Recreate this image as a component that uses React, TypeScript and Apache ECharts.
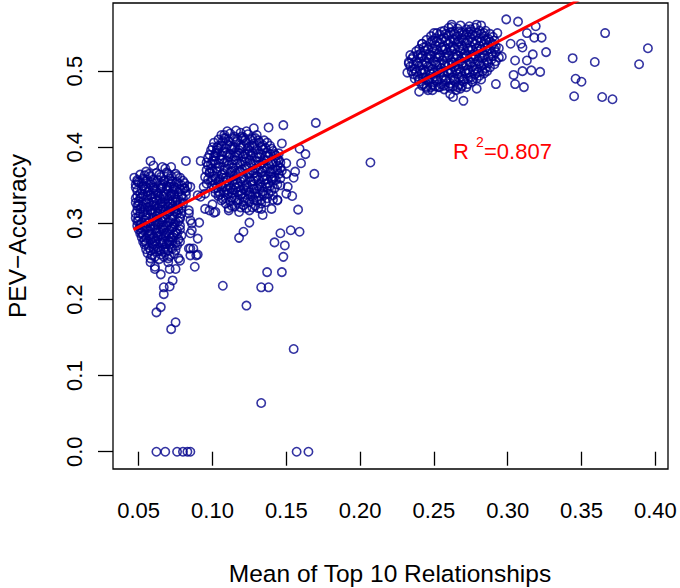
import React, { useEffect, useRef } from "react";
import * as echarts from "echarts";

// Values in thousandths: [x*1000, y*1000]
const clusterA: number[][] = [
  [51,364],[55,368],[58,362],[62,366],[65,361],[69,367],[72,362],[75,365],[78,360],[49,357],[53,359],[60,358],[67,357],[71,359],
  [54,363],[57,365],[64,364],[70,365],[76,362],
  [48,351],[50,354],[53,349],[55,355],[58,351],[60,347],[62,353],[65,350],[67,355],[69,349],[72,352],[74,348],[76,354],[79,350],[81,353],
  [49,355],[52,352],[56,357],[59,354],[63,357],[66,352],[70,356],[73,355],[77,352],[80,356],[83,349],
  [49,343],[51,339],[54,345],[56,341],[58,337],[61,344],[63,340],[65,346],[67,338],[70,343],[72,339],[74,345],[77,341],[79,337],[82,342],
  [48,347],[52,344],[55,348],[57,343],[60,346],[62,342],[66,347],[69,345],[71,348],[73,342],[75,347],[78,345],[81,346],
  [48,333],[50,329],[52,335],[55,331],[57,327],[59,334],[62,330],[64,335],[66,328],[68,332],[71,336],[73,330],[75,334],[78,328],[80,333],
  [49,336],[51,333],[53,338],[56,336],[60,339],[61,333],[63,337],[65,332],[67,335],[70,331],[72,336],[74,338],[76,331],[79,335],[82,337],
  [49,323],[51,319],[53,325],[56,321],[58,317],[60,324],[63,320],[65,326],[67,318],[70,322],[72,326],[74,319],[76,324],[79,320],
  [48,327],[50,325],[52,322],[55,327],[57,322],[59,328],[61,322],[64,323],[66,322],[68,326],[71,327],[73,322],[75,328],[77,322],[80,326],
  [48,313],[50,309],[53,315],[55,311],[57,307],[59,314],[62,310],[64,316],[66,308],[69,312],[71,316],[73,309],[76,313],[78,308],
  [49,317],[51,313],[54,319],[56,314],[59,318],[61,316],[63,313],[65,318],[68,316],[70,314],[72,319],[75,316],[77,318],[79,313],
  [49,303],[51,298],[54,304],[56,300],[58,296],[61,302],[63,298],[65,305],[67,297],[70,301],[72,305],[74,299],[77,303],
  [48,307],[50,304],[52,301],[55,307],[57,302],[60,307],[62,305],[64,301],[66,302],[68,306],[71,302],[73,306],[75,302],[78,306],
  [50,292],[52,288],[54,294],[57,290],[59,286],[61,293],[64,289],[66,294],[68,287],[71,291],[73,295],[75,288],[78,292],
  [49,297],[51,294],[53,291],[55,296],[58,293],[60,298],[62,291],[65,292],[67,291],[69,297],[72,293],[74,296],[76,291],[78,297],
  [52,282],[54,278],[57,284],[59,280],[61,276],[63,283],[66,279],[68,284],[70,277],[72,281],[74,285],[77,279],
  [51,287],[53,285],[55,281],[58,286],[60,282],[62,288],[65,285],[67,282],[69,288],[71,285],[73,282],[76,286],[79,284],
  [54,272],[57,268],[59,274],[61,270],[64,266],[66,273],[68,269],[71,272],[73,267],[76,271],
  [53,276],[55,274],[58,278],[60,272],[62,277],[65,275],[67,276],[69,273],[71,276],[73,277],[75,274],[78,276],
  [56,261],[59,258],[62,263],[65,259],[68,262],[71,257],[74,260],
  [55,266],[58,264],[60,266],[63,268],[65,264],[67,266],[70,264],[72,268],[75,265],
  [58,254],[61,256],[64,253],[67,256],[70,254],
];

const clusterB: number[][] = [
  [110,421],[116,422],[123,421],
  [106,416],[109,412],[112,418],[115,414],[119,419],[121,413],[124,417],[127,412],[130,416],
  [104,410],[108,412],[111,408],[114,411],[117,410],[120,411],[123,406],[126,410],[129,412],[132,406],[135,409],
  [101,406],[104,402],[107,408],[110,404],[113,400],[116,407],[119,403],[122,409],[125,401],[128,405],[131,409],[134,403],[137,406],
  [100,400],[103,396],[106,402],[109,399],[112,402],[115,399],[118,396],[121,401],[124,398],[127,402],[130,397],[133,401],[136,399],[139,402],[141,395],
  [99,396],[102,392],[104,398],[107,394],[110,390],[113,397],[116,393],[119,399],[122,391],[125,395],[128,399],[131,392],[134,397],[137,393],[140,398],[142,391],
  [98,390],[101,388],[103,393],[106,389],[109,393],[112,391],[115,388],[118,392],[121,388],[124,391],[127,393],[130,387],[133,391],[136,389],[139,391],[143,389],[145,392],
  [97,386],[100,382],[102,388],[105,384],[108,380],[111,387],[114,383],[117,389],[120,381],[123,385],[126,389],[129,382],[132,387],[135,383],[138,388],[141,381],[144,385],
  [96,380],[99,378],[101,383],[104,379],[107,384],[110,382],[113,378],[116,383],[119,377],[122,381],[125,383],[128,377],[131,381],[134,379],[137,383],[140,378],[143,381],[146,380],
  [97,376],[99,372],[102,378],[105,374],[108,370],[111,377],[114,373],[117,379],[120,371],[123,375],[126,379],[129,372],[132,377],[135,373],[138,378],[141,371],[144,376],[146,373],
  [96,370],[98,367],[100,369],[103,372],[107,366],[110,372],[113,369],[116,366],[119,368],[122,372],[125,367],[128,366],[131,371],[134,369],[137,372],[140,366],[143,370],[147,369],
  [98,366],[101,362],[103,368],[106,364],[109,360],[112,367],[115,363],[118,369],[121,361],[124,365],[127,369],[130,362],[133,367],[136,363],[139,368],[142,361],[145,365],
  [97,358],[100,357],[102,359],[104,355],[107,360],[110,356],[113,361],[116,358],[119,355],[122,357],[125,360],[128,356],[131,357],[134,361],[137,358],[140,361],[143,357],[146,359],
  [99,356],[102,352],[105,358],[108,354],[111,350],[114,357],[117,353],[120,359],[123,351],[126,355],[129,359],[132,352],[135,357],[138,353],[141,358],[144,351],
  [100,350],[103,347],[106,351],[109,349],[112,346],[115,351],[118,348],[121,345],[124,347],[127,351],[130,346],[133,348],[136,352],[139,349],[142,346],
  [101,346],[104,342],[107,348],[110,344],[113,340],[116,347],[119,343],[122,349],[125,341],[128,345],[131,349],[134,342],[137,347],[140,343],
  [102,340],[105,338],[108,341],[111,339],[114,344],[117,341],[120,339],[123,343],[126,336],[129,339],[132,344],[135,337],[138,339],[141,337],
  [104,336],[107,332],[110,338],[113,334],[116,330],[119,337],[122,333],[125,338],[128,331],[131,335],[134,339],[137,333],
  [106,330],[109,333],[112,329],[115,334],[118,331],[121,328],[124,332],[127,335],[130,330],[133,331],[136,328],
  [109,326],[113,323],[117,327],[121,324],[125,328],[129,323],[133,326],
  [111,320],[115,322],[119,321],[123,320],[127,321],[131,320],
];

const clusterC: number[][] = [
  [262,561],[268,560],[274,559],[279,561],
  [257,553],[260,557],[263,552],[266,556],[269,551],[272,555],[275,552],[278,557],[281,553],[284,550],
  [252,550],[255,552],[258,549],[261,551],[264,549],[267,552],[270,548],[273,551],[276,548],[279,550],[282,549],[285,553],[288,549],
  [248,546],[251,543],[254,548],[257,544],[260,547],[263,542],[266,546],[269,543],[272,548],[275,544],[278,547],[281,543],[284,546],[287,542],[290,545],
  [245,541],[249,540],[252,539],[255,542],[258,540],[261,539],[264,541],[267,539],[270,541],[273,540],[276,539],[279,540],[282,539],[285,541],[288,539],[291,540],
  [242,536],[245,533],[248,538],[251,534],[254,537],[257,532],[260,536],[263,533],[266,538],[269,534],[272,537],[275,532],[278,536],[281,533],[284,537],[287,534],[290,536],[292,532],
  [240,529],[243,531],[246,529],[249,530],[252,528],[255,531],[258,529],[261,530],[264,529],[267,531],[270,529],[273,530],[276,528],[279,530],[282,529],[285,531],[288,529],[291,529],[294,530],
  [238,526],[241,523],[244,527],[247,522],[250,526],[253,523],[256,528],[259,524],[262,527],[265,522],[268,526],[271,523],[274,527],[277,522],[280,526],[283,524],[286,527],[289,523],[292,525],
  [236,519],[239,521],[242,520],[245,518],[248,521],[251,519],[254,521],[257,519],[260,521],[263,519],[266,520],[269,518],[272,521],[275,519],[278,520],[281,519],[284,521],[287,519],[290,520],[294,518],
  [235,516],[238,513],[241,517],[244,512],[247,516],[250,513],[253,518],[256,514],[259,517],[262,512],[265,516],[268,513],[271,517],[274,512],[277,516],[280,513],[283,517],[286,512],[289,515],[292,513],
  [233,510],[236,509],[239,511],[242,509],[245,510],[248,508],[251,511],[254,509],[257,510],[260,508],[263,511],[266,509],[269,510],[272,508],[275,511],[278,509],[281,510],[284,509],[287,510],[291,509],
  [234,506],[237,503],[240,507],[243,502],[246,506],[249,503],[252,508],[255,504],[258,507],[261,502],[264,506],[267,503],[270,507],[273,502],[276,506],[279,503],[282,507],[285,504],[288,505],
  [235,500],[238,499],[241,501],[244,499],[247,500],[250,498],[253,501],[256,499],[259,500],[262,499],[265,501],[268,499],[271,500],[274,498],[277,501],[280,499],[283,500],[286,500],
  [236,496],[239,493],[242,497],[245,492],[248,496],[251,493],[254,498],[257,494],[260,497],[263,492],[266,496],[269,493],[272,497],[275,492],[278,496],[281,494],[284,497],
  [237,490],[240,489],[243,491],[246,489],[249,490],[252,488],[255,491],[258,489],[261,490],[264,489],[267,491],[270,489],[273,490],[276,489],[279,490],[282,489],
  [240,486],[243,483],[246,487],[249,482],[252,486],[255,483],[258,488],[261,484],[264,487],[267,482],[270,486],[273,483],[276,486],
  [242,481],[245,480],[248,479],[251,480],[254,479],[257,481],[260,480],[263,480],[266,479],[269,480],[272,479],
  [245,478],[249,475],[253,479],[257,476],[261,478],[265,475],
];

const scattered: number[][] = [
  [58,382],[60,376],[66,374],[72,374],[82,382],[47,360],[53,357],[68,372],[85,348],[81,346],[84,317],[85,304],[86,291],[91,301],[86,300],[84,313],[90,337],[90,280],[85,287],[88,243],[85,267],[87,267],[90,259],[85,258],[89,258],[84,267],[77,254],[70,249],[61,243],[58,249],[61,240],[65,233],[67,216],[71,217],[73,225],[67,207],[65,190],[62,183],[75,240],[71,240],[78,251],[75,170],[72,161],
  [92,382],[95,361],[94,348],[96,352],[95,339],[92,335],[95,319],[98,317],[102,315],[101,314],[100,325],
  [103,400],[108,416],[120,414],[128,425],[138,426],[148,429],[170,432],[147,405],[145,383],[150,379],[144,370],[140,357],[146,350],[150,365],[159,398],[163,391],[160,379],[156,368],[155,360],[169,365],[151,348],[154,336],[158,318],[144,331],[141,331],[140,319],[133,319],[134,311],[125,317],[118,315],[111,317],[107,218],[123,192],[118,281],[121,289],[125,301],[144,330],[142,275],[146,287],[149,271],[148,256],[137,236],[147,236],[133,216],[138,216],[150,339],[153,291],[159,289],[155,135],[133,64],[207,380],
  [232,498],[233,512],[234,521],[240,473],[246,475],[261,470],[270,461],[263,466],[268,477],[279,477],[292,483],[305,483],[311,479],[304,495],[262,558],[275,555],[282,560],[250,550],[242,536],[299,568],[307,565],[319,559],[313,550],[318,544],[323,544],[309,536],[310,531],[326,525],[317,522],[305,514],[313,514],[310,500],[316,501],[322,499],[293,550],[302,536],[296,519],
  [344,517],[359,512],[366,550],[395,530],[389,509],[346,490],[350,486],[345,467],[364,466],[371,463],
];

const zeros: number[][] = [[62,0],[68,0],[76,0],[80,0],[83,0],[85,0],[157,0],[165,0]];

const fitX = [0.0465, 0.3946];
const fitY = [0.2918, 0.64];

const xTicks = [0.05, 0.1, 0.15, 0.2, 0.25, 0.3, 0.35, 0.4];
const yTicks = [0, 0.1, 0.2, 0.3, 0.4, 0.5];
const xTitle = "Mean of Top 10 Relationships";
const yTitle = "PEV\u2212Accuracy";
const r2Text = "=0.807";

const FONT = "'Liberation Sans', Arial, Helvetica, sans-serif";

export default function App() {
  const ref = useRef<HTMLDivElement>(null);
  useEffect(() => {
    if (!ref.current) return;
    const chart = echarts.init(ref.current, undefined, { renderer: "svg" });
    const pts = [...clusterA, ...clusterB, ...clusterC, ...scattered, ...zeros].map(
      ([x, y]) => [x / 1000, y / 1000]
    );
    const fit = fitX.map((x, i) => [x, fitY[i]]);
    chart.setOption({
      animation: false,
      grid: {
        left: 113, right: 12, top: 3, bottom: 119,
        show: true, borderColor: "#000", borderWidth: 1.3, backgroundColor: "transparent",
      },
      xAxis: {
        type: "value", min: 0.0326, max: 0.4086,
        axisLine: { show: false },
        splitLine: { show: false },
        axisTick: { show: true, inside: false, length: 14, customValues: xTicks, lineStyle: { color: "#000", width: 1.3 } },
        axisLabel: {
          customValues: xTicks, formatter: (v: number) => v.toFixed(2),
          margin: 30, fontSize: 22, color: "#000", fontFamily: FONT,
        },
      },
      yAxis: {
        type: "value", min: -0.0227, max: 0.5895,
        axisLine: { show: false },
        splitLine: { show: false },
        axisTick: { show: true, inside: false, length: 15, customValues: yTicks, lineStyle: { color: "#000", width: 1.3 } },
        axisLabel: {
          customValues: yTicks, formatter: (v: number) => v.toFixed(1), rotate: 90,
          margin: 28, fontSize: 22, color: "#000", fontFamily: FONT,
        },
      },
      series: [
        {
          type: "scatter", data: pts, symbol: "circle", symbolSize: 8.4, silent: true,
          itemStyle: { color: "rgba(0,0,0,0)", borderColor: "#00008B", borderWidth: 1.6 },
          z: 2,
        },
        {
          type: "line", data: fit, symbol: "none", silent: true, clip: true,
          lineStyle: { color: "#FF0000", width: 3 }, z: 3,
        },
      ],
      graphic: [
        { type: "text", x: 390, y: 573, style: { text: xTitle, fontSize: 24.5, fontFamily: FONT, fill: "#000", align: "center", verticalAlign: "middle", textAlign: "center", textVerticalAlign: "middle" } },
        { type: "text", x: 17, y: 236, rotation: Math.PI / 2, style: { text: yTitle, fontSize: 24.5, fontFamily: FONT, fill: "#000", align: "center", verticalAlign: "middle", textAlign: "center", textVerticalAlign: "middle" } },
        { type: "text", x: 453, y: 151, style: { text: "R", fontSize: 22, fontFamily: FONT, fill: "#FF0000", align: "left", verticalAlign: "middle", textAlign: "left", textVerticalAlign: "middle" } },
        { type: "text", x: 476, y: 142, style: { text: "2", fontSize: 14, fontFamily: FONT, fill: "#FF0000", align: "left", verticalAlign: "middle", textAlign: "left", textVerticalAlign: "middle" } },
        { type: "text", x: 484, y: 151, style: { text: r2Text, fontSize: 22, fontFamily: FONT, fill: "#FF0000", align: "left", verticalAlign: "middle", textAlign: "left", textVerticalAlign: "middle" } },
      ],
    });
    return () => chart.dispose();
  }, []);
  return <div ref={ref} style={{ position: "fixed", left: 0, top: 0, width: 680, height: 588, background: "#fff" }} />;
}
